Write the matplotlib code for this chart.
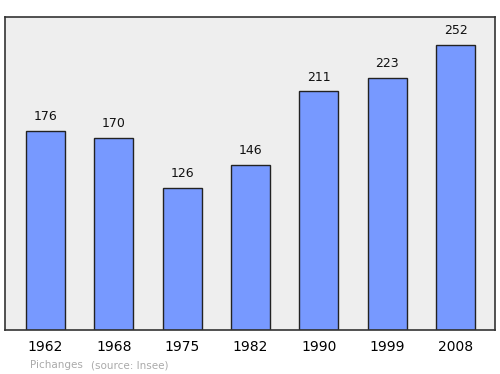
import matplotlib.pyplot as plt

years = ['1962', '1968', '1975', '1982', '1990', '1999', '2008']
population = [176, 170, 126, 146, 211, 223, 252]

fig = plt.figure(figsize=(5, 3.74), dpi=100)
ax = fig.add_axes([0.01, 0.1176, 0.98, 0.8369])
ax.set_facecolor('#eeeeee')

x = range(len(years))
ax.bar(x, population, width=0.57, color='#7799ff', edgecolor='#222222', linewidth=1)

for xi, v in zip(x, population):
    ax.text(xi, v + 7, str(v), ha='center', va='bottom', fontsize=9, color='#111111')

ax.set_xlim(-0.593, 6.578)
ax.set_ylim(0, 276.8)
ax.set_xticks(list(x))
ax.set_xticklabels(years, fontsize=10)
ax.tick_params(axis='x', length=0, pad=7)
ax.set_yticks([])
for s in ax.spines.values():
    s.set_color('#333333')
    s.set_linewidth(1.2)

fig.text(0.06, 0.016, 'Pichanges', color='#aaaaaa', fontsize=7.5)
fig.text(0.182, 0.016, '(source: Insee)', color='#aaaaaa', fontsize=7.5)

fig.savefig('out.png', dpi=100)
